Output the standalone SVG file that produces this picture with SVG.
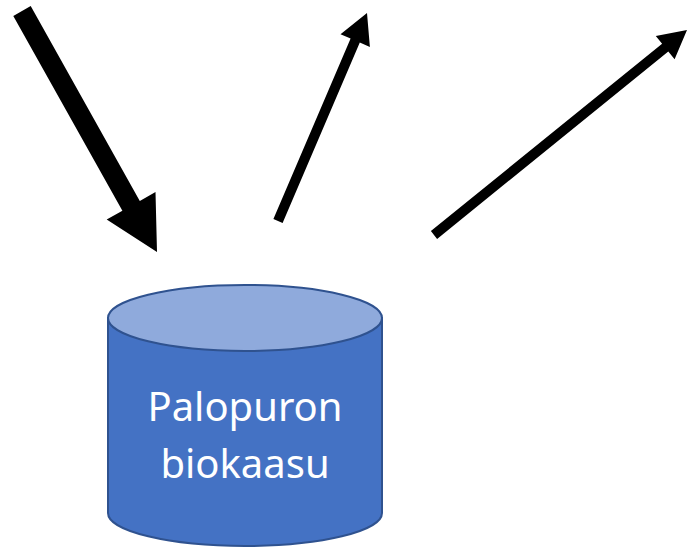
<svg xmlns="http://www.w3.org/2000/svg" width="687" height="551" viewBox="0 0 687 551">
<style>
.arrow{fill:#000;stroke:none}
.body{fill:#4472C4;stroke:#2F528F;stroke-width:2}
.top{fill:#8FAADC;stroke:#2F528F;stroke-width:2}
.label{font-family:"Noto Sans","Open Sans",sans-serif;font-size:40px;fill:#fff;text-anchor:middle}
</style>
<rect width="687" height="551" fill="#fff"/>
<g id="connectors">
<polygon class="arrow" points="13.3,15.9 30.7,6.1 139.8,200.9 155.5,192.1 157,252 106.7,219.5 122.4,210.7"/>
<polygon class="arrow" points="282.6,223 273.4,219 350.6,38.6 340.5,34.3 367,13 369.9,46.9 359.8,42.6"/>
<polygon class="arrow" points="437.1,238.9 430.9,231.1 662.1,43.7 655.8,35.9 687,30 674.6,59.3 668.3,51.5"/>
</g>
<g id="biokaasu">
<path class="body" d="M108,318 L108,513 A137,33 0 0 0 382,513 L382,318 Z"/>
<ellipse class="top" cx="245" cy="318" rx="137" ry="33"/>
<text class="label" x="245" y="421" textLength="195" lengthAdjust="spacingAndGlyphs">Palopuron</text>
<text class="label" x="245" y="478">biokaasu</text>
</g>
</svg>
